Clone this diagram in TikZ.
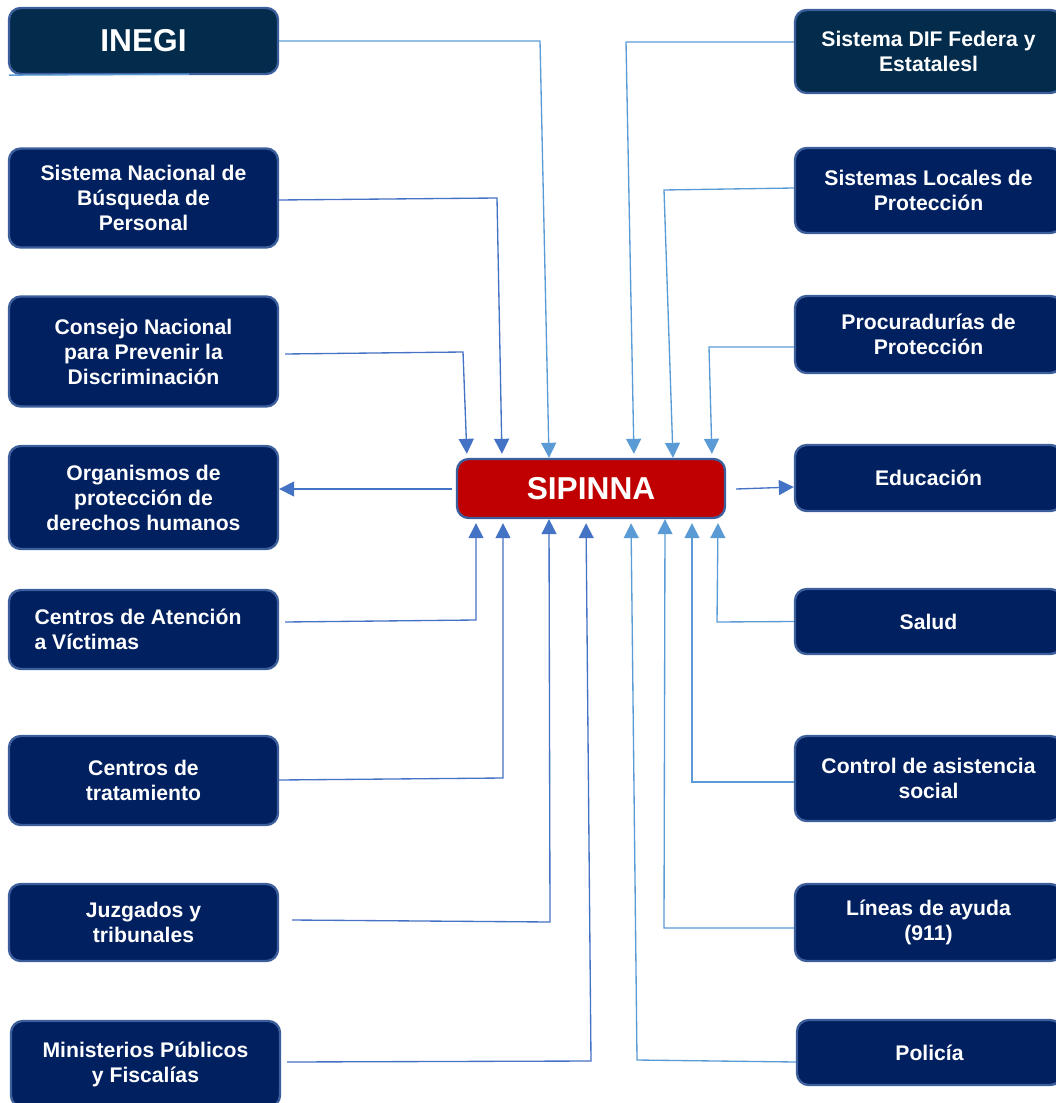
\documentclass[tikz,border=0pt]{standalone}
\usepackage{fontspec}
\setmainfont{Liberation Sans}
\usetikzlibrary{arrows.meta,calc}
\definecolor{boxnavy}{HTML}{002060}
\definecolor{boxdark}{HTML}{032B4B}
\definecolor{edgeblue}{HTML}{3C5F9C}
\definecolor{sipred}{HTML}{C00000}
\definecolor{linedark}{HTML}{4472C4}
\definecolor{linelight}{HTML}{5B9BD5}
\begin{document}
\begin{tikzpicture}[x=0.6pt,y=-0.6pt,
  box/.style={draw=edgeblue, line width=1.4pt, rounded corners=7pt, fill=boxnavy,
    text=white, font=\bfseries\fontsize{12.7}{15}\selectfont, align=center, inner sep=0pt},
  wh/.style 2 args={minimum width=#1*0.6pt, minimum height=#2*0.6pt},
  darkc/.style={draw=linedark, line width=0.8pt},
  lightc/.style={draw=linelight, line width=0.8pt},
  darkarrow/.style={darkc, -{Triangle[width=9pt,length=9pt,fill=linedark]}},
  lightarrow/.style={lightc, -{Triangle[width=9pt,length=9pt,fill=linelight]}},
  gap/.style={shorten >=2.4pt}]
\useasboundingbox (0,0) rectangle (1055,1103);

% left column
\node[box, fill=boxdark, wh={269}{66}, font=\bfseries\fontsize{19}{22}\selectfont] (inegi) at (143.5,41) {INEGI};
\node[box, wh={269}{99}] (n2) at (143.5,198) {Sistema Nacional de\\Búsqueda de\\Personal};
\node[box, wh={269}{110}] (n3) at (143.5,351.5) {Consejo Nacional\\para Prevenir la\\Discriminación};
\node[box, wh={269}{103}] (n4) at (143.5,497.5) {Organismos de\\protección de\\derechos humanos};
\node[box, wh={269}{79}, align=left] (n5) at (143.5,629.5) {Centros de Atención\hspace*{6.6pt}\\a Víctimas};
\node[box, wh={269}{89}] (n6) at (143.5,780.5) {Centros de\\tratamiento};
\node[box, wh={269}{77}] (n7) at (143.5,922.5) {Juzgados y\\tribunales};
\node[box, wh={269}{86}] (n8) at (145.5,1064) {Ministerios Públicos\\y Fiscalías};

% right column
\node[box, fill=boxdark, wh={267}{83}] (r1) at (928.5,51.5) {Sistema DIF Federa y\\Estatalesl};
\node[box, wh={267}{85}] (r2) at (928.5,190.5) {Sistemas Locales de\\Protección};
\node[box, wh={267}{77}] (r3) at (928.5,334.5) {Procuradurías de\\Protección};
\node[box, wh={267}{66}] (r4) at (928.5,478) {Educación};
\node[box, wh={267}{65}] (r5) at (928.5,621.5) {Salud};
\node[box, wh={267}{85}] (r6) at (928.5,778.5) {Control de asistencia\\social};
\node[box, wh={267}{77}] (r7) at (928.5,922.5) {Líneas de ayuda\\(911)};
\node[box, wh={265}{65}] (r8) at (929.5,1052.5) {Policía};

% centre
\node[box, fill=sipred, wh={268}{59}, font=\bfseries\fontsize{19}{22}\selectfont] (sip) at (591,488.5) {SIPINNA};

% stray line under INEGI
\draw[lightc] ($(inegi.south west)+(1,0)$) -- ($(inegi.south west)+(181,-1)$);

% incoming from top-left
\draw[lightarrow] (inegi.east) -- (540,41) -- (549,0 |- sip.north);
\draw[darkarrow, gap] ($(n2.east)+(0,2)$) -- (497,198) -- (502,0 |- sip.north);
\draw[darkarrow, gap] ($(n3.east)+(6,2.5)$) -- (463,352) -- (467,0 |- sip.north);

% outgoing left
\draw[darkarrow] ($(sip.west)+(-4,0.5)$) -- ($(n4.east)+(0,-8.5)$);

% incoming from bottom-left
\draw[darkarrow, gap] ($(n5.east)+(6,-7.5)$) -- (476,620) -- (476,0 |- sip.south);
\draw[darkarrow, gap] ($(n6.east)+(0,-0.5)$) -- (503,778) -- (503,0 |- sip.south);
\draw[darkarrow] ($(n7.east)+(13,-2.5)$) -- (550,922) -- (549,0 |- sip.south);
\draw[darkarrow, gap] ($(n8.east)+(6,-2)$) -- (591,1061) -- (586,0 |- sip.south);

% incoming from bottom-right
\draw[lightarrow, gap] ($(r8.west)+(0,9.5)$) -- (637,1060) -- (631,0 |- sip.south);
\draw[lightarrow] ($(r7.west)+(0,5.5)$) -- (664,928) -- (665,0 |- sip.south);
\draw[lightarrow, gap] ($(r6.west)+(0,3.5)$) -- (692,782) -- (692,0 |- sip.south);
\draw[lightarrow, gap] (r5.west) -- (717,622) -- (718,0 |- sip.south);

% outgoing right
\draw[darkarrow] ($(sip.east)+(10,0.5)$) -- ($(r4.west)+(0,9)$);

% incoming from top-right
\draw[lightarrow, gap] ($(r3.west)+(0,12.5)$) -- (709,347) -- (712,0 |- sip.north);
\draw[lightarrow] ($(r2.west)+(0,-2.5)$) -- (664,190) -- (673,0 |- sip.north);
\draw[lightarrow, gap] ($(r1.west)+(0,-9.5)$) -- (626,42) -- (634,0 |- sip.north);
\end{tikzpicture}
\end{document}
